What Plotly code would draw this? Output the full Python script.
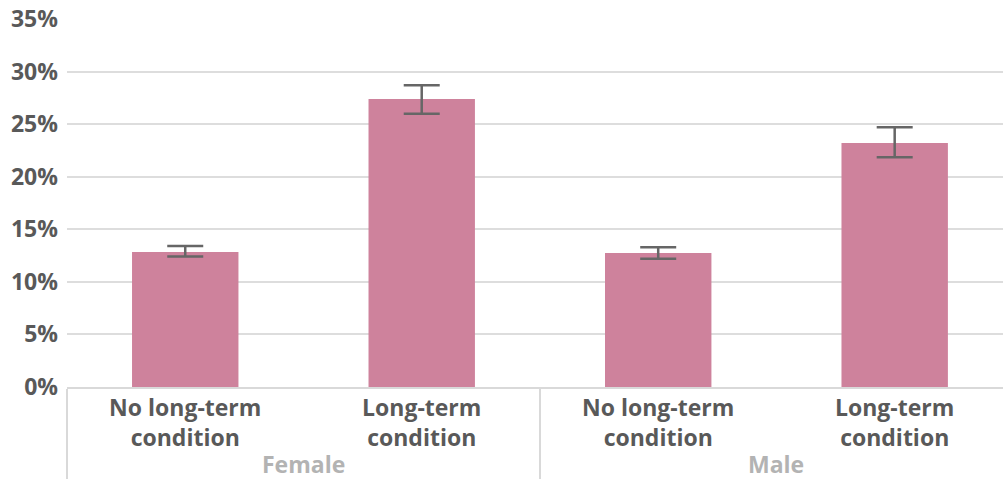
import plotly.graph_objects as go

group_names = ["Female", "Male"]
groups = [" ", " ", "  ", "  "]  # placeholders; group names drawn as grey annotations
conditions = ["No long-term<br>condition", "Long-term<br>condition", "No long-term<br>condition", "Long-term<br>condition"]
values = [12.85, 27.4, 12.75, 23.2]
err_upper = [13.4, 28.7, 13.3, 24.7]
err_lower = [12.4, 26.0, 12.2, 21.85]

plus = [u - v for u, v in zip(err_upper, values)]
minus = [v - l for v, l in zip(values, err_lower)]

FONT = "Open Sans"
FS = 23

fig = go.Figure(go.Bar(
    x=[groups, conditions],
    y=values,
    marker=dict(color="#CE829C", line=dict(width=0)),
    error_y=dict(type="data", symmetric=False, array=plus, arrayminus=minus,
                 color="#666666", thickness=2.5, width=18),
))

# group label centres, in paper units of the visible x range
xr = [-0.5, 3.458]
for i, name in enumerate(group_names):
    centre = 2 * i + 0.5
    fig.add_annotation(
        text=name, xref="paper", yref="paper",
        x=(centre - xr[0]) / (xr[1] - xr[0]), y=0, yshift=-77,
        yanchor="middle", xanchor="center", showarrow=False,
        font=dict(family=FONT, size=FS, color="#B3B3B3", weight="bold"),
    )

fig.update_layout(
    width=1003, height=479,
    margin=dict(l=67, r=0, t=19, b=92),
    paper_bgcolor="white", plot_bgcolor="white",
    bargap=0.55,
    showlegend=False,
    font=dict(family=FONT, size=FS, color="#595959"),
)
fig.update_yaxes(
    range=[0, 35], dtick=5, ticksuffix="%",
    showgrid=True, gridcolor="#DDDDDD", gridwidth=1.5,
    zeroline=False, showline=False, automargin=False,
    tickfont=dict(family=FONT, size=FS, color="#595959", weight="bold"),
    ticks="", ticklabelstandoff=8, ticklabeloverflow="allow",
)
fig.update_xaxes(
    type="multicategory", automargin=False, range=xr,
    showline=True, linecolor="#D9D9D9", linewidth=1.5,
    showdividers=True, dividercolor="#D9D9D9", dividerwidth=1.5,
    tickfont=dict(family=FONT, size=FS, color="#595959", weight="bold"),
    ticks="",
)
# remove the default page margin so the figure fills the window exactly
fig.write_html("out.html",
               config={"displayModeBar": False},
               post_script="document.body.style.margin='0';document.body.style.overflow='hidden';")
